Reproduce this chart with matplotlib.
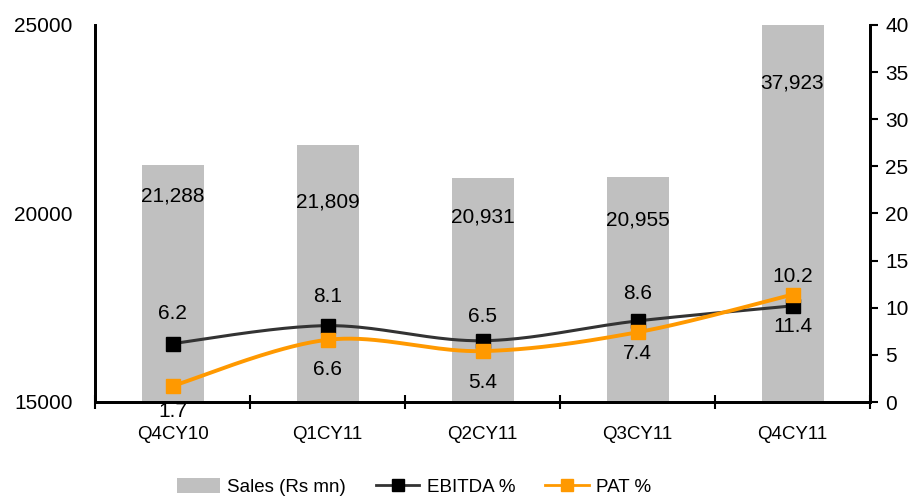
import numpy as np
import matplotlib
matplotlib.use("Agg")
import matplotlib.pyplot as plt
from matplotlib.lines import Line2D
from matplotlib.patches import Patch

plt.rcParams['font.family'] = ['Liberation Sans', 'DejaVu Sans']

categories = ["Q4CY10", "Q1CY11", "Q2CY11", "Q3CY11", "Q4CY11"]
sales = [21288, 21809, 20931, 20955, 37923]
ebitda = [6.2, 8.1, 6.5, 8.6, 10.2]
pat = [1.7, 6.6, 5.4, 7.4, 11.4]
sales_labels = ["21,288", "21,809", "20,931", "20,955", "37,923"]

# label offsets in pixels (style only)
bar_lab_off = [31, 57, 39, 43, 58]
ebitda_lab_off = [30, 29, 24, 27, 29]
pat_lab_off = [26, 30, 31, 21, 32]

fig = plt.figure(figsize=(9.2, 4.97), dpi=100)
ax = fig.add_axes([95/920, 1-402/497, 775/920, 377/497])
ax2 = ax.twinx()

x = np.arange(len(categories))
BAR = '#c0c0c0'
BLK = '#333333'
ORG = '#ff9900'

ax.bar(x, sales, width=0.4, color=BAR, zorder=1)
ax.set_ylim(15000, 25000)
ax.set_xlim(-0.5, len(categories) - 0.5)
ax.set_yticks([15000, 20000, 25000])
ax.set_yticklabels(["15000", "20000", "25000"], fontsize=15)
ax.tick_params(axis='y', length=0, pad=16)
ax.set_xticks(np.arange(-0.5, len(categories), 1.0))
ax.set_xticklabels([])
ax.set_xticks(x, minor=True)
ax.set_xticklabels(categories, minor=True, fontsize=13.5)
ax.tick_params(axis='x', which='major', direction='inout', length=10, width=1.5)
ax.tick_params(axis='x', which='minor', length=0, pad=17)

for s in ['top']:
    ax.spines[s].set_visible(False)
    ax2.spines[s].set_visible(False)
for s in ['left', 'bottom', 'right']:
    ax.spines[s].set_linewidth(2)
    ax2.spines[s].set_linewidth(2)

for xi, v, lab, off in zip(x, sales, sales_labels, bar_lab_off):
    top = min(v, 25000)
    ax.annotate(lab, (xi, top), xytext=(0, -off), textcoords='offset pixels',
                ha='center', va='center', fontsize=15, zorder=3)


def smooth(xs, ys, n=40):
    xs = np.asarray(xs, float)
    ys = np.asarray(ys, float)
    P = np.column_stack([xs, ys])
    Pe = np.vstack([P[0], P, P[-1]])
    out = []
    for i in range(len(P) - 1):
        p0, p1, p2, p3 = Pe[i], Pe[i+1], Pe[i+2], Pe[i+3]
        c1 = p1 + (p2 - p0) / 6.0
        c2 = p2 - (p3 - p1) / 6.0
        t = np.linspace(0, 1, n)[:, None]
        seg = ((1-t)**3)*p1 + 3*((1-t)**2)*t*c1 + 3*(1-t)*(t**2)*c2 + (t**3)*p2
        out.append(seg if i == 0 else seg[1:])
    out = np.vstack(out)
    return out[:, 0], out[:, 1]

sx, sy = smooth(x, ebitda)
ax2.plot(sx, sy, color=BLK, lw=2.2, zorder=3)
sx, sy = smooth(x, pat)
ax2.plot(sx, sy, color=ORG, lw=2.8, zorder=4)
ax2.plot(x, ebitda, ls='none', marker='s', ms=10, color='black', zorder=5)
ax2.plot(x, pat, ls='none', marker='s', ms=10, color=ORG, zorder=6)

for xi, v, off in zip(x, ebitda, ebitda_lab_off):
    ax2.annotate(f"{v}", (xi, v), xytext=(0, off), textcoords='offset pixels',
                 ha='center', va='center', fontsize=15, zorder=7, annotation_clip=False)
for xi, v, off in zip(x, pat, pat_lab_off):
    ax2.annotate(f"{v}", (xi, v), xytext=(0, -off), textcoords='offset pixels',
                 ha='center', va='center', fontsize=15, zorder=7, annotation_clip=False)

ax2.set_ylim(0, 40)
ax2.set_yticks(np.arange(0, 41, 5))
ax2.set_yticklabels([str(v) for v in range(0, 41, 5)], fontsize=15)
ax2.tick_params(axis='y', direction='out', length=6, width=1.5, pad=5)
ax2.set_zorder(ax.get_zorder() + 1)
ax2.patch.set_visible(False)

handles = [Patch(facecolor=BAR, edgecolor='none'),
           Line2D([], [], color=BLK, lw=2, marker='s', ms=9, mfc='black', mec='black'),
           Line2D([], [], color=ORG, lw=2, marker='s', ms=9, mfc=ORG, mec=ORG)]
fig.legend(handles, ["Sales (Rs mn)", "EBITDA %", "PAT %"], loc='center',
           bbox_to_anchor=(0.45, 0.02), ncol=3, frameon=False,
           prop={'size': 13.5}, handlelength=2.3,
           handletextpad=0.4, columnspacing=1.6, handleheight=0.9)

fig.savefig("out.png", dpi=100)
